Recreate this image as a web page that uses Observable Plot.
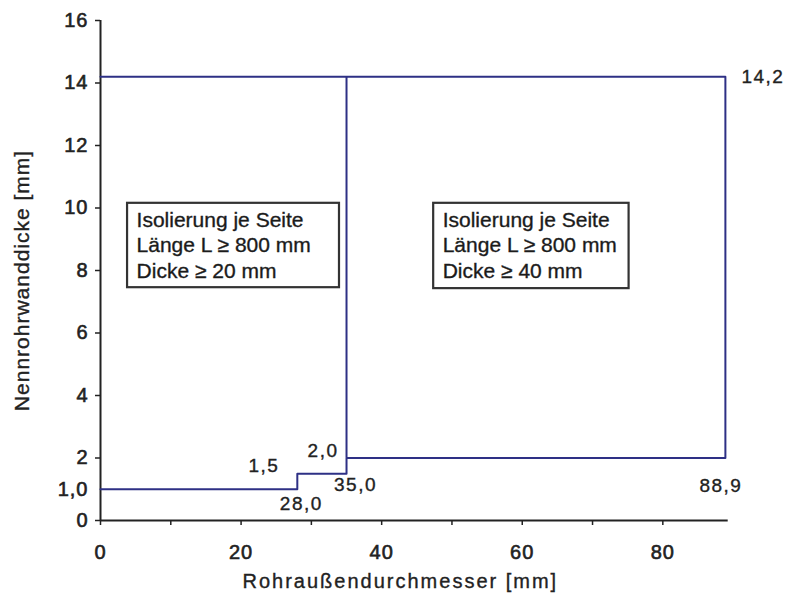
<!DOCTYPE html>
<html><head><meta charset="utf-8">
<script src="https://cdn.jsdelivr.net/npm/d3@7"></script>
<script src="https://cdn.jsdelivr.net/npm/@observablehq/plot@0.6"></script>
<style>
body{margin:0;background:#fff;}
#chart svg{font-family:"Liberation Sans",Arial,sans-serif;}
</style>
</head><body><div id="chart"></div>
<script>
// Boundary of the regions (Rohraußendurchmesser [mm], Nennrohrwanddicke [mm])
const boundaryX = [0, 28.0, 28.0, 35.0, 35.0, 88.9, 88.9, 0];
const boundaryY = [1.0, 1.0, 1.5, 1.5, 2.0, 2.0, 14.2, 14.2];
const dividerX = [35.0];
const dividerY1 = [2.0];
const dividerY2 = [14.2];

const xTicksMajor = [0, 20, 40, 60, 80];
const xTicksMinor = [10, 30, 50, 70];
const yTicks = [0, 2, 4, 6, 8, 10, 12, 14, 16];
const yExtraTicks = [1.0];
const yExtraTickLabels = ["1,0"];

const valueLabels = ["14,2", "88,9", "1,5", "2,0", "35,0", "28,0"];
const valueLabelX = [88.9, 88.9, 28.0, 35.0, 35.0, 28.0];
const valueLabelY = [14.2, 2.0, 1.5, 2.0, 2.0, 1.0];

const boxTexts = [
  "Isolierung je Seite\nLänge L ≥ 800 mm\nDicke ≥ 20 mm",
  "Isolierung je Seite\nLänge L ≥ 800 mm\nDicke ≥ 40 mm"
];
const xTitle = "Rohraußendurchmesser [mm]";
const yTitle = "Nennrohrwanddicke [mm]";

// layout (not data)
const boxRects = [
  {x1: 3.85, x2: 34.0, y1: 7.45, y2: 10.15},
  {x1: 47.4, x2: 75.2, y1: 7.42, y2: 10.15}
];
const labelOffsets = [
  {dx: 16, dy: 0, anchor: "start"},
  {dx: 17, dy: 28, anchor: "end"},
  {dx: -18, dy: -8, anchor: "end"},
  {dx: -8, dy: -7, anchor: "end"},
  {dx: 9, dy: 27, anchor: "middle"},
  {dx: 4, dy: 15, anchor: "middle"}
];

const lineData = boundaryX.map((x, i) => ({x, y: boundaryY[i]}));
const lineColor = "#2e3085";
const ink = "#222";

const marks = [
  // axes lines
  Plot.ruleX([0], {y1: 0, y2: 16, stroke: ink, strokeWidth: 2}),
  Plot.ruleY([0], {x1: 0, x2: 89.3, stroke: ink, strokeWidth: 2}),
  Plot.axisX(xTicksMajor, {tickSize: 5, tickPadding: 19, fontSize: 20, stroke: ink, fill: ink, strokeWidth: 1.5, label: null, tickFormat: d => String(d)}),
  Plot.axisX(xTicksMinor, {tickSize: 5, text: null, stroke: ink, strokeWidth: 1.5, label: null}),
  Plot.axisY(yTicks, {tickSize: 5, tickPadding: 7, fontSize: 20, stroke: ink, fill: ink, strokeWidth: 1.5, label: null, tickFormat: d => String(d)}),
  Plot.axisY(yExtraTicks, {tickSize: 0, tickPadding: 12, fontSize: 20, fill: ink, label: null, tickFormat: (d, i) => yExtraTickLabels[i]}),
  // boundary
  Plot.line(lineData, {x: "x", y: "y", stroke: lineColor, strokeWidth: 2, curve: "linear"}),
  Plot.ruleX(dividerX, {y1: () => dividerY1[0], y2: () => dividerY2[0], stroke: lineColor, strokeWidth: 2}),
  // boxes
  Plot.rect(boxRects, {x1: "x1", x2: "x2", y1: "y1", y2: "y2", fill: "white", stroke: "#333", strokeWidth: 2.2}),
  ...boxTexts.map((t, i) => Plot.text([t], {
    x: boxRects[i].x1, y: boxRects[i].y2, text: d => d, textAnchor: "start", lineAnchor: "top",
    dx: 9, dy: 5, fontSize: 21, lineHeight: 1.22, fill: "#1a1a1a"
  })),
  // value labels
  ...valueLabels.map((t, i) => Plot.text([t], {
    x: valueLabelX[i], y: valueLabelY[i], text: d => d,
    dx: labelOffsets[i].dx, dy: labelOffsets[i].dy, textAnchor: labelOffsets[i].anchor,
    fontSize: 19, fill: ink
  })),
  // axis titles
  Plot.text([xTitle], {frameAnchor: "bottom", text: d => d, dx: -14, dy: 67, fontSize: 20, fill: ink}),
  Plot.text([yTitle], {frameAnchor: "left", text: d => d, rotate: -90, textAnchor: "middle", dx: -78, dy: 10, fontSize: 21, fill: ink})
];

const chart = Plot.plot({
  width: 787, height: 605,
  marginLeft: 100, marginRight: 59.3, marginTop: 20, marginBottom: 85,
  x: {domain: [0, 89.3]},
  y: {domain: [0, 16]},
  style: {background: "white", fontFamily: "'Liberation Sans', Arial, sans-serif"},
  marks
});
const tickSet = new Set([...xTicksMajor.map(String), ...yTicks.map(String), ...yExtraTickLabels]);
const valSet = new Set(valueLabels);
d3.select(chart).selectAll("text").each(function() {
  const t = this.textContent;
  let ls = null, sw = 0.35;
  if (t === xTitle) ls = "2px";
  else if (t === yTitle) ls = "1px";
  else if (valSet.has(t)) ls = "1.5px";
  else if (tickSet.has(t)) { ls = "1px"; sw = 0.6; }
  if (ls) this.style.letterSpacing = ls;
  this.style.stroke = "#222";
  this.style.strokeWidth = sw + "px";
});
document.getElementById("chart").appendChild(chart);
</script>
</body></html>
